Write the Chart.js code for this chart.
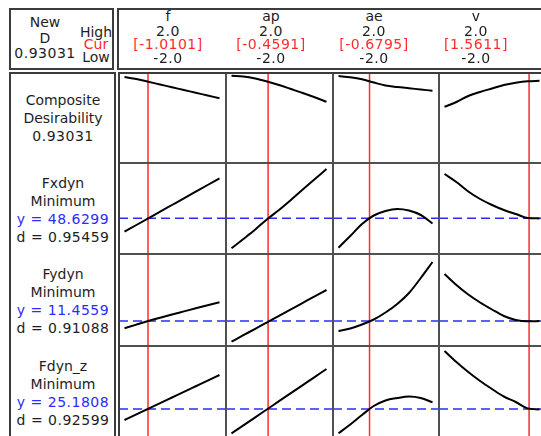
<!DOCTYPE html>
<html>
<head>
<meta charset="utf-8">
<script src="https://cdn.jsdelivr.net/npm/chart.js@4.4.0/dist/chart.umd.min.js"></script>
<style>
html, body { margin: 0; padding: 0; background: #fff; overflow: hidden; }
#page { position: relative; width: 541px; height: 436px; overflow: hidden;
        font-family: "DejaVu Sans", Verdana, sans-serif; font-size: 14px; color: #1e1e1e; }
.box { position: absolute; border: 2px solid #3c3c3c; box-sizing: border-box; }
.line { position: absolute; background: #505050; }
.txt { position: absolute; white-space: nowrap; line-height: 16px; height: 16px; transform: translateX(-50%); }
.num { letter-spacing: 0.5px; }
canvas { position: absolute; }
</style>
</head>
<body>
<div id="page"></div>
<script>
// factors (columns)
const factors = ['f', 'ap', 'ae', 'v'];
const highs = ['2.0', '2.0', '2.0', '2.0'];
const lows = ['-2.0', '-2.0', '-2.0', '-2.0'];
const current = [-1.0101, -0.4591, -0.6795, 1.5611];
const xLevels = [-2, -1.5, -1, -0.5, 0, 0.5, 1, 1.5, 2];

// responses (rows)
const responseNames = ['Composite', 'Fxdyn', 'Fydyn', 'Fdyn_z'];
const yCurrent = [0.93031, 48.6299, 11.4559, 25.1808];
const dValues = [0.93031, 0.95459, 0.91088, 0.92599];
const rowMin = [0.606, 30.8, 8.96, 19.58];
const rowMax = [0.97, 76.3, 18.16, 37.78];

// composite desirability
const desirF  = [0.950, 0.942, 0.931, 0.920, 0.909, 0.898, 0.887, 0.876, 0.865];
const desirAp = [0.955, 0.952, 0.944, 0.932, 0.918, 0.902, 0.886, 0.869, 0.851];
const desirAe = [0.954, 0.949, 0.941, 0.928, 0.916, 0.910, 0.905, 0.900, 0.895];
const desirV  = [0.831, 0.850, 0.874, 0.890, 0.904, 0.918, 0.927, 0.933, 0.935];
// Fxdyn
const fxF  = [41.95, 45.30, 48.63, 51.95, 55.30, 58.65, 61.98, 65.30, 68.65];
const fxAp = [33.65, 38.30, 43.05, 48.20, 52.80, 57.80, 63.05, 68.15, 73.30];
const fxAe = [33.95, 39.80, 45.80, 50.05, 52.30, 53.30, 52.55, 50.30, 46.05];
const fxV  = [70.80, 66.80, 62.05, 58.30, 55.30, 52.80, 50.80, 48.80, 48.60];
// Fydyn
const fyF  = [10.73, 11.10, 11.46, 11.79, 12.11, 12.42, 12.73, 13.03, 13.33];
const fyAp = [9.39, 10.04, 10.68, 11.33, 11.98, 12.62, 13.27, 13.92, 14.56];
const fyAe = [10.46, 10.71, 11.11, 11.61, 12.31, 13.16, 14.26, 15.76, 17.36];
const fyV  = [16.16, 15.06, 14.11, 13.31, 12.61, 11.96, 11.56, 11.44, 11.45];
// Fdyn_z
const fzF  = [22.98, 24.10, 25.23, 26.36, 27.48, 28.60, 29.73, 30.86, 31.98];
const fzAp = [20.30, 21.91, 23.52, 25.13, 26.74, 28.35, 29.96, 31.57, 33.18];
const fzAe = [20.32, 22.08, 23.98, 25.78, 26.88, 27.38, 27.68, 27.38, 26.52];
const fzV  = [36.78, 34.58, 32.58, 30.78, 29.18, 27.68, 26.58, 25.30, 25.08];

const curves = [
    [desirF, desirAp, desirAe, desirV],
    [fxF, fxAp, fxAe, fxV],
    [fyF, fyAp, fyAe, fyV],
    [fzF, fzAp, fzAe, fzV]
];

// layout
const colEdges = [119, 226, 333, 439, 546];
const rowEdges = [72, 163, 254, 346, 437];
const padL = 5.5, padR = 6.5;
const page = document.getElementById('page');

function addBox(x, y, w, h) {
    const d = document.createElement('div');
    d.className = 'box';
    Object.assign(d.style, { left: x + 'px', top: y + 'px', width: w + 'px', height: h + 'px' });
    page.appendChild(d);
}

function addLine(x, y, w, h) {
    const d = document.createElement('div');
    d.className = 'line';
    Object.assign(d.style, { left: x + 'px', top: y + 'px', width: w + 'px', height: h + 'px' });
    page.appendChild(d);
}

function addText(str, x, y, color, isNum) {
    const d = document.createElement('div');
    d.className = isNum ? 'txt num' : 'txt';
    d.textContent = str;
    d.style.left = x + 'px';
    d.style.top = (y - 8) + 'px';
    if (color) d.style.color = color;
    page.appendChild(d);
}

function makeCell(r, c) {
    const w = colEdges[c + 1] - colEdges[c];
    const h = rowEdges[r + 1] - rowEdges[r];
    const cv = document.createElement('canvas');
    cv.width = w;
    cv.height = h;
    cv.style.left = colEdges[c] + 'px';
    cv.style.top = rowEdges[r] + 'px';
    page.appendChild(cv);

    const ppu = (w - padL - padR) / 4;
    const xMin = -2 - padL / ppu, xMax = 2 + padR / ppu;

    const datasets = [{
        data: xLevels.map((x, i) => ({ x: x, y: curves[r][c][i] })),
        borderColor: '#000',
        borderWidth: 2,
        pointRadius: 0,
        tension: 0.4,
        cubicInterpolationMode: 'monotone',
        order: 0
    }, {
        data: [{ x: current[c], y: rowMin[r] }, { x: current[c], y: rowMax[r] }],
        borderColor: '#ff2b2b',
        borderWidth: 1.5,
        pointRadius: 0,
        order: 2
    }];
    if (r > 0) {
        datasets.push({
            data: [{ x: xMin, y: yCurrent[r] }, { x: xMax, y: yCurrent[r] }],
            borderColor: '#2b2bff',
            borderWidth: 1.5,
            borderDash: [9, 5],
            pointRadius: 0,
            order: 1
        });
    }

    new Chart(cv, {
        type: 'line',
        data: { datasets: datasets },
        options: {
            responsive: false,
            animation: false,
            events: [],
            layout: { padding: 0 },
            plugins: { legend: { display: false }, tooltip: { enabled: false } },
            scales: {
                x: { type: 'linear', min: xMin, max: xMax, display: false },
                y: { min: rowMin[r], max: rowMax[r], display: false }
            }
        }
    });
}

// plot cells
for (let r = 0; r < 4; r++) {
    for (let c = 0; c < 4; c++) makeCell(r, c);
}

// grid dividers
for (let c = 1; c < 4; c++) addLine(colEdges[c] - 1, 72, 2, 380);
for (let r = 1; r < 4; r++) addLine(119, rowEdges[r] - 1, 440, 2);

// frames
addBox(9, 8, 105, 62);
addBox(117, 8, 440, 62);
addBox(9, 72, 107, 380);
addBox(118, 72, 440, 380);

// header, left
addText('New', 45, 22);
addText('D', 45, 38);
addText(yCurrent[0].toFixed(5), 45, 53, null, true);
addText('High', 96, 31.5);
addText('Cur', 96, 44, '#ff2b2b');
addText('Low', 96, 57);

// header, factors
const headX = [168, 271, 374, 476];
factors.forEach((f, c) => {
    addText(f, headX[c], 16);
    addText(highs[c], headX[c], 31, null, true);
    addText('[' + current[c].toFixed(4) + ']', headX[c], 44, '#ff2b2b', true);
    addText(lows[c], headX[c], 57.5, null, true);
});

// response labels
responseNames.forEach((name, r) => {
    let lines;
    if (r === 0) {
        lines = [[name, null, false], ['Desirability', null, false], [dValues[0].toFixed(5), null, true]];
    } else {
        lines = [[name, null, false], ['Minimum', null, false],
                 ['y = ' + yCurrent[r].toFixed(4), '#2b2bff', true],
                 ['d = ' + dValues[r].toFixed(5), null, true]];
    }
    const mid = (rowEdges[r] + rowEdges[r + 1]) / 2 + (r === 0 ? 0 : 1);
    lines.forEach((ln, i) => {
        addText(ln[0], 63, mid + (i - (lines.length - 1) / 2) * 18, ln[1], ln[2]);
    });
});
</script>
</body>
</html>
